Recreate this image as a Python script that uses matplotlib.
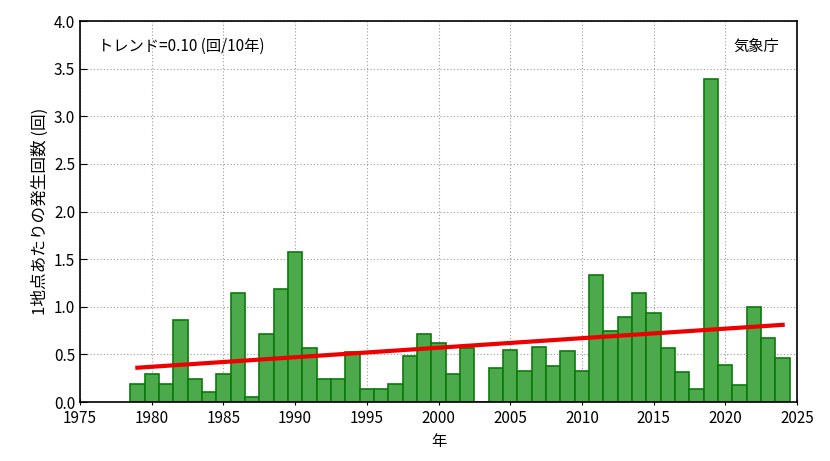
import matplotlib
matplotlib.use("Agg")
import matplotlib.pyplot as plt
import numpy as np

plt.rcParams['font.family'] = ['Noto Sans CJK JP', 'DejaVu Sans']

years = list(range(1979, 2025))
values = [0.19, 0.29, 0.19, 0.86, 0.24, 0.10, 0.29, 1.14, 0.05, 0.71,
          1.19, 1.57, 0.57, 0.24, 0.24, 0.52, 0.14, 0.14, 0.19, 0.48,
          0.71, 0.62, 0.29, 0.57, 0.0, 0.36, 0.55, 0.33, 0.58, 0.38,
          0.54, 0.33, 1.33, 0.75, 0.89, 1.14, 0.93, 0.57, 0.32, 0.14,
          3.39, 0.39, 0.18, 1.00, 0.67, 0.46]
trend_years = [1979, 2024]
trend_values = [0.36, 0.81]

fig = plt.figure(figsize=(8.30, 4.61), dpi=100)
ax = fig.add_axes([80/830, 59/461, 717/830, 381/461])
ax.bar(years, values, width=1.0, color='#4caa4c', edgecolor='#0a7a0a', linewidth=1.2, zorder=2)
ax.plot(trend_years, trend_values, color='#ee0000', linewidth=3, zorder=3)
ax.set_xlim(1975, 2025)
ax.set_ylim(0, 4.0)
ax.set_xticks(range(1975, 2026, 5))
ax.set_yticks(np.arange(0, 4.01, 0.5))
ax.set_yticklabels([f"{v:.1f}" for v in np.arange(0, 4.01, 0.5)])
ax.grid(True, linestyle=(0, (1, 2)), color='#999999', linewidth=0.8, zorder=0)
ax.set_axisbelow(True)
ax.tick_params(labelsize=11, direction='in', length=5)
ax.tick_params(axis='x', direction='inout')
for s in ax.spines.values():
    s.set_linewidth(1.2)
ax.set_xlabel('年', fontsize=11)
ax.set_ylabel('1地点あたりの発生回数 (回)', fontsize=12)
ax.text(0.025, 0.955, 'トレンド=0.10 (回/10年)', transform=ax.transAxes, fontsize=11, va='top', ha='left')
ax.text(0.975, 0.955, '気象庁', transform=ax.transAxes, fontsize=11, va='top', ha='right')
fig.savefig('out.png', dpi=100)
